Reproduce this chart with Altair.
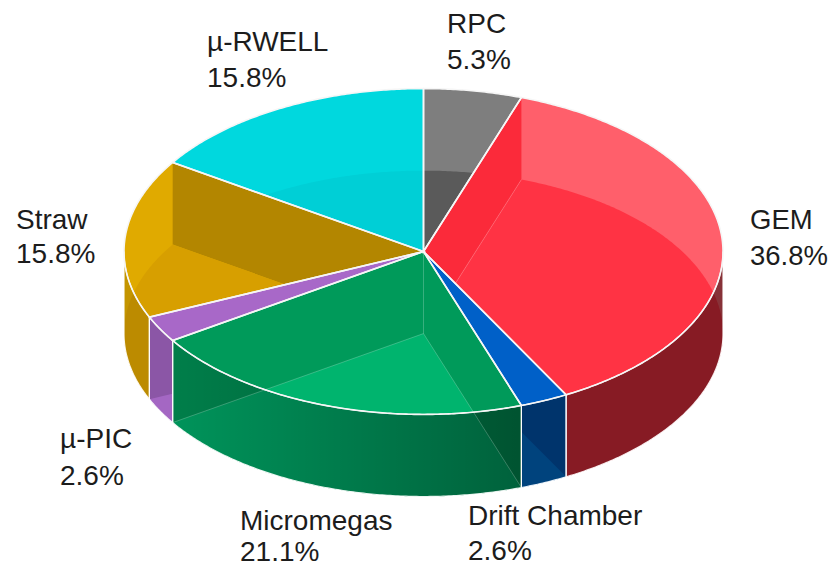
import numpy as np
import altair as alt

names = ["RPC", "GEM", "Drift Chamber", "Micromegas", "µ-PIC", "Straw", "µ-RWELL"]
shares = [5.3, 36.8, 2.6, 21.1, 2.6, 15.8, 15.8]
share_text = ["5.3%", "36.8%", "2.6%", "21.1%", "2.6%", "15.8%", "15.8%"]

# colour of what is seen through each slice: back wall, radial walls, floor, darkening of the front wall
base_colors = ["#7e7e7e", "#ff5f6b", "#0060c8", "#009a5a", "#a868c8", "#e0aa00", "#00d8de"]
wall_colors = ["#7e7e7e", "#fb2a3a", "#0060c8", "#009a5a", "#a868c8", "#b38600", "#00d8de"]
floor_colors = ["#5a5a5a", "#ff3344", "#007ce8", "#00b46e", "#c67ceb", "#d79f00", "#00cfd6"]
front_shade = [0.45, 0.47, 0.46, None, 0.17, 0.12, 0.3]
micromegas_shade = {
    "gradient": "linear", "x1": 0, "y1": 0, "x2": 1, "y2": 0,
    "stops": [
        {"offset": 0, "color": "rgba(0,0,0,0.18)"},
        {"offset": 1, "color": "rgba(0,0,0,0.46)"},
    ],
}
paint_order = [0, 6, 1, 5, 4, 2, 3]

label_lines = {
    "RPC": (447, 33, 69, 28), "GEM": (750, 229, 265, 27.5), "Drift Chamber": (468, 525, 560, 28),
    "Micromegas": (240, 530, 561, 28), "µ-PIC": (60, 448, 485, 28), "Straw": (16, 229, 263, 28),
    "µ-RWELL": (207, 51, 87, 28),
}
FONT = "Liberation Sans"
CX, CY, RX = 423.5 - 8, 251.5 - 8, 299.5
SQUASH, DEPTH = 0.544, 0.274


def rim(a0, a1, drop=0.0):
    t = np.radians(np.linspace(a0, a1, max(3, int(abs(a1 - a0)) * 2)))
    return [[float(np.sin(v)), float(np.cos(v) * SQUASH - drop)] for v in t]


def feature(kind, coords, fill="none", stroke="none", sw=0, op=1):
    return {
        "type": "Feature",
        "geometry": {"type": kind, "coordinates": coords},
        "properties": {"fill": fill, "stroke": stroke, "sw": sw, "op": op},
    }


def poly(points, **kw):
    return feature("Polygon", [points + [points[0]]], **kw)


def sector(a0, a1, drop=0.0):
    return [[0.0, -drop]] + rim(a0, a1, drop)


def wall(a):
    t = rim(a, a)[0]
    return [[0.0, 0.0], t, [t[0], t[1] - DEPTH], [0.0, -DEPTH]]


def band(a0, a1):
    return rim(a0, a1) + rim(a0, a1, DEPTH)[::-1]


bounds = np.cumsum([0] + shares) / sum(shares) * 360
features, outlines = [], []
for i in paint_order:
    a0, a1 = float(bounds[i]), float(bounds[i + 1])
    fa, fb = max(a0, 90.0), min(a1, 270.0)
    features.append(poly(sector(a0, a1), fill=base_colors[i]))
    if fb > fa:
        features.append(poly(band(fa, fb), fill=base_colors[i]))
    features.append(poly(wall(a0), fill=wall_colors[i]))
    features.append(poly(wall(a1), fill=wall_colors[i]))
    features.append(poly(sector(a0, a1, DEPTH), fill=floor_colors[i]))
    if fb > fa:
        shade = micromegas_shade if front_shade[i] is None else f"rgba(0,0,0,{front_shade[i]})"
        features.append(poly(band(fa, fb), fill=shade))
        outlines.append(poly(band(fa, fb), stroke="#ffffff", sw=1.2, op=0.9))
    for a in (a0, a1):
        if i in (3, 1):
            tb = rim(a, a, DEPTH)[0]
            features.append(feature("LineString", [[0.0, -DEPTH], tb],
                                    stroke="#ffffff", sw=1, op=0.22))
    if i == 3:
        features.append(feature("LineString", [[0.0, 0.0], [0.0, -DEPTH]],
                                stroke="#ffffff", sw=1, op=0.22))
    outlines.append(poly(sector(a0, a1), stroke="#f6f6f6", sw=1.6, op=1))

pie = alt.Chart(alt.Data(values=features + outlines)).mark_geoshape().encode(
    color=alt.Color("properties.fill:N", scale=None, legend=None),
    stroke=alt.Stroke("properties.stroke:N", scale=None, legend=None),
    strokeWidth=alt.StrokeWidth("properties.sw:Q", scale=None, legend=None),
    strokeOpacity=alt.StrokeOpacity("properties.op:Q", scale=None, legend=None),
).project(type="identity", reflectY=True, scale=RX, translate=[CX, CY])

layers = [pie]
for n, s in zip(names, share_text):
    x, y1, y2, size = label_lines[n]
    for line, y in ((n, y1), (s, y2)):
        layers.append(
            alt.Chart(alt.Data(values=[{"t": line}])).mark_text(
                align="left", baseline="alphabetic", font=FONT, fontSize=size,
                color="#1c1c1c", x=x - 8, y=y - 8,
            ).encode(text="t:N")
        )

chart = alt.layer(*layers).properties(
    width=821, height=560, padding=0, autosize=alt.AutoSizeParams(type="none"),
    background="white",
).configure_view(stroke=None)
chart.save("out.html", embed_options={"renderer": "svg", "actions": False})
